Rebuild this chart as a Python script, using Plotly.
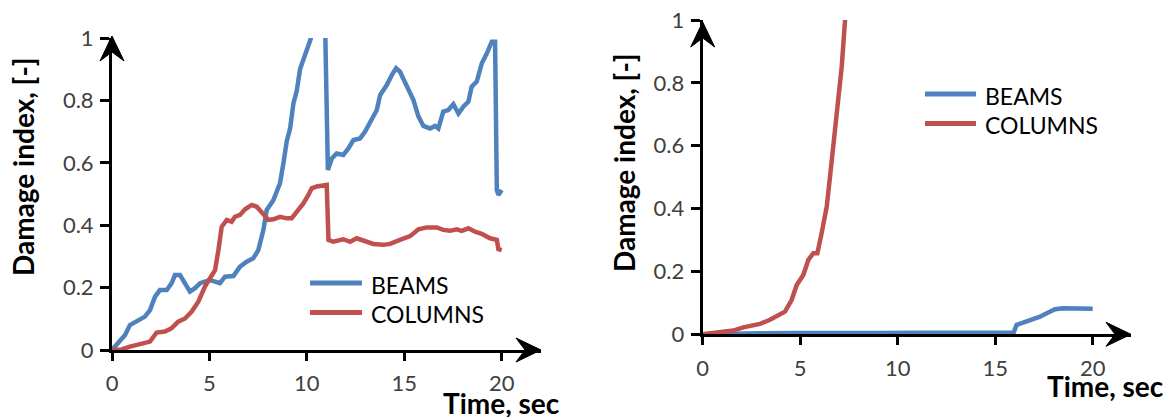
import plotly.graph_objects as go

# ---- data -----------------------------------------------------------------
# Left panel: damage index histories
left_beams_t = [0, 0.41, 0.67, 0.92, 1.18, 1.44, 1.69, 1.95, 2.21, 2.46, 2.81, 3.06, 3.23,
                3.49, 3.75, 4.0, 4.26, 4.52, 4.77, 5.03, 5.29, 5.54, 5.8, 6.23, 6.57, 6.91,
                7.25, 7.51, 7.77, 7.94, 8.28, 8.62, 8.8, 8.97, 9.14, 9.31, 9.48, 9.65, 9.82,
                10.0, 10.16, 10.5, 10.8, 10.95, 11.08, 11.28, 11.53, 11.87, 12.13, 12.39,
                12.73, 12.99, 13.33, 13.59, 13.76, 14.1, 14.36, 14.58, 14.78, 15.13, 15.47,
                15.73, 15.98, 16.32, 16.58, 16.75, 17.0, 17.26, 17.52, 17.78, 18.03, 18.29,
                18.46, 18.72, 18.98, 19.24, 19.49, 19.66, 19.75, 19.83, 20.0]
left_beams_di = [0, 0.032, 0.048, 0.08, 0.09, 0.10, 0.107, 0.128, 0.171, 0.192, 0.192, 0.214,
                 0.24, 0.24, 0.214, 0.187, 0.198, 0.214, 0.219, 0.224, 0.219, 0.214, 0.235,
                 0.237, 0.267, 0.283, 0.294, 0.32, 0.385, 0.449, 0.48, 0.534, 0.60, 0.67,
                 0.71, 0.79, 0.83, 0.90, 0.93, 0.96, 0.99, 1.06, 1.03, 1.0, 0.577, 0.614,
                 0.63, 0.625, 0.646, 0.673, 0.678, 0.70, 0.737, 0.769, 0.817, 0.849, 0.881,
                 0.903, 0.892, 0.849, 0.801, 0.748, 0.718, 0.71, 0.718, 0.71, 0.764, 0.769,
                 0.788, 0.758, 0.78, 0.796, 0.844, 0.86, 0.919, 0.951, 0.988, 0.988, 0.513,
                 0.497, 0.513]

left_columns_t = [0, 0.5, 0.92, 1.44, 1.95, 2.29, 2.72, 3.06, 3.4, 3.75, 4.09, 4.43, 4.77,
                  5.03, 5.29, 5.46, 5.63, 5.89, 6.14, 6.31, 6.57, 6.83, 7.17, 7.43, 7.77,
                  8.03, 8.28, 8.62, 8.97, 9.22, 9.48, 9.82, 10.08, 10.25, 10.51, 10.93,
                  11.02, 11.11, 11.36, 11.87, 12.22, 12.56, 12.9, 13.41, 13.93, 14.27, 14.78,
                  15.3, 15.73, 16.15, 16.67, 17.0, 17.35, 17.69, 17.95, 18.29, 18.63, 18.98,
                  19.4, 19.75, 19.83, 20.0]
left_columns_di = [0, 0.002, 0.011, 0.018, 0.027, 0.056, 0.059, 0.07, 0.091, 0.101, 0.123,
                   0.155, 0.203, 0.23, 0.256, 0.32, 0.395, 0.417, 0.411, 0.427, 0.433, 0.451,
                   0.465, 0.459, 0.433, 0.417, 0.419, 0.427, 0.422, 0.422, 0.443, 0.47, 0.497,
                   0.518, 0.524, 0.529, 0.529, 0.353, 0.347, 0.355, 0.347, 0.358, 0.351, 0.34,
                   0.337, 0.34, 0.353, 0.365, 0.387, 0.393, 0.393, 0.385, 0.382, 0.387, 0.382,
                   0.39, 0.379, 0.372, 0.358, 0.353, 0.323, 0.32]

# Right panel: damage index histories
right_beams_t = [0, 1, 3, 5, 7, 9, 11, 13, 15, 15.95, 16.1, 16.44, 16.95, 17.3, 17.64, 18.07,
                 18.49, 19.2, 20.0]
right_beams_di = [0, 0.002, 0.003, 0.004, 0.003, 0.004, 0.005, 0.004, 0.005, 0.006, 0.03,
                  0.037, 0.046, 0.056, 0.067, 0.08, 0.083, 0.083, 0.081]

right_columns_t = [0, 0.55, 1.06, 1.57, 2.08, 2.43, 2.94, 3.45, 3.96, 4.22, 4.56, 4.82, 5.16,
                   5.42, 5.67, 5.88, 6.1, 6.36, 6.53, 6.7, 6.87, 7.13, 7.3, 7.45]
right_columns_di = [0, 0.003, 0.008, 0.012, 0.022, 0.026, 0.033, 0.046, 0.061, 0.072, 0.109,
                    0.157, 0.189, 0.237, 0.258, 0.258, 0.322, 0.406, 0.502, 0.597, 0.714,
                    0.852, 1.0, 1.1]

x_ticks = [0, 5, 10, 15, 20]
y_ticks = [0, 0.2, 0.4, 0.6, 0.8, 1]
y_tick_text = ["0", "0.2", "0.4", "0.6", "0.8", "1"]
series_names = ["BEAMS", "COLUMNS"]

BLUE = "#4F81BD"
RED = "#C0504D"
W, H = 1166, 417


def px(x):
    return x / W


def py(y):
    return 1 - y / H


fig = go.Figure()
line_w = 4.5
fig.add_trace(go.Scatter(x=left_beams_t, y=left_beams_di, mode="lines", name=series_names[0],
                         line=dict(color=BLUE, width=line_w), xaxis="x", yaxis="y"))
fig.add_trace(go.Scatter(x=left_columns_t, y=left_columns_di, mode="lines", name=series_names[1],
                         line=dict(color=RED, width=line_w), xaxis="x", yaxis="y"))
fig.add_trace(go.Scatter(x=right_beams_t, y=right_beams_di, mode="lines", name=series_names[0],
                         line=dict(color=BLUE, width=line_w), xaxis="x2", yaxis="y2"))
fig.add_trace(go.Scatter(x=right_columns_t, y=right_columns_di, mode="lines", name=series_names[1],
                         line=dict(color=RED, width=line_w), xaxis="x2", yaxis="y2"))

tick_font = dict(family="Lato", size=22, color="#404040")


def xaxis_cfg(dom, rng, anchor):
    return dict(domain=dom, range=rng, tickvals=x_ticks, ticks="outside", ticklen=8,
                tickwidth=3, tickcolor="black", showline=True, linewidth=3, linecolor="black",
                showgrid=False, zeroline=False, tickfont=tick_font, fixedrange=True,
                automargin=False, anchor=anchor, ticklabelstandoff=4)


def yaxis_cfg(dom, anchor):
    return dict(domain=dom, range=[0, 1], tickvals=y_ticks, ticktext=y_tick_text,
                ticks="outside", ticklen=9, tickwidth=3, tickcolor="black", showline=True,
                linewidth=3, linecolor="black", showgrid=False, zeroline=False,
                tickfont=tick_font, anchor=anchor, fixedrange=True, automargin=False,
                ticklabelstandoff=2)


# panel geometry (pixel positions of the axis origins and ends)
L_x0, L_x20, L_xend = 112, 501.7, 541
L_y0, L_y1 = 350, 38
R_x0, R_x20, R_xend = 702.7, 1092.7, 1131
R_y0, R_y1 = 334.3, 20

L_scale = (L_x20 - L_x0) / 20
R_scale = (R_x20 - R_x0) / 20

fig.update_layout(
    width=W, height=H,
    margin=dict(l=0, r=0, t=0, b=0, autoexpand=False),
    paper_bgcolor="white", plot_bgcolor="white",
    showlegend=False,
    xaxis=xaxis_cfg([px(L_x0), px(L_xend)], [0, (L_xend - L_x0) / L_scale], "y"),
    yaxis=yaxis_cfg([py(L_y0), py(L_y1)], "x"),
    xaxis2=xaxis_cfg([px(R_x0), px(R_xend)], [0, (R_xend - R_x0) / R_scale], "y2"),
    yaxis2=yaxis_cfg([py(R_y0), py(R_y1)], "x2"),
)


def arrow_path(tip, back, half, notch, horizontal):
    tx, ty = tip
    if horizontal:
        pts = [(tx, ty), (tx - back, ty - half), (tx - notch, ty), (tx - back, ty + half)]
    else:
        pts = [(tx, ty), (tx - half, ty + back), (tx, ty + notch), (tx + half, ty + back)]
    return "M " + " L ".join(f"{px(x):.5f},{py(y):.5f}" for x, y in pts) + " Z"


shapes = []
for tip, horiz in [((L_xend, L_y0), True), ((L_x0, 36), False),
                   ((R_xend, R_y0), True), ((R_x0, 22), False)]:
    shapes.append(dict(type="path", xref="paper", yref="paper",
                       path=arrow_path(tip, 25, 12, 16, horiz),
                       fillcolor="black", line=dict(color="black", width=1)))

# legend keys
legend_font = dict(family="Lato", size=23, color="black")
annotations = []
for lx0, lx1, ly, tx in [(310, 362, 283, 369), (925, 976, 94, 983)]:
    for k, (name, col) in enumerate(zip(series_names, [BLUE, RED])):
        yy = ly + k * 29.5
        shapes.append(dict(type="line", xref="paper", yref="paper",
                           x0=px(lx0), x1=px(lx1), y0=py(yy), y1=py(yy),
                           line=dict(color=col, width=5)))
        annotations.append(dict(text=name, xref="paper", yref="paper", x=px(tx), y=py(yy + 1.5),
                                xanchor="left", yanchor="middle", showarrow=False,
                                font=legend_font))

title_font = dict(family="Lato", size=28, color="black")
for cx, cy in [(23, 167), (624, 163)]:
    annotations.append(dict(text="<b>Damage index, [-]</b>", xref="paper", yref="paper",
                            x=px(cx), y=py(cy), textangle=-90, showarrow=False,
                            xanchor="center", yanchor="middle", font=title_font))
for lx, cy in [(441, 403), (1045, 386)]:
    annotations.append(dict(text="<b>Time, sec</b>", xref="paper", yref="paper",
                            x=px(lx), y=py(cy), showarrow=False, xanchor="left",
                            yanchor="middle", font=dict(family="Lato", size=28, color="black")))

fig.update_layout(shapes=shapes, annotations=annotations)
fig.write_html("out.html")
